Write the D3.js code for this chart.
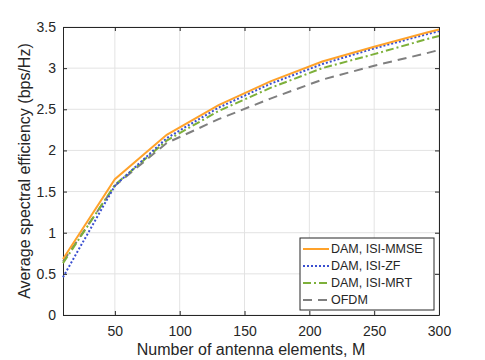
<!DOCTYPE html>
<html>
<head>
<meta charset="utf-8">
<script src="https://cdn.jsdelivr.net/npm/d3@7"></script>
<style>
  body { margin: 0; background: #fff; }
  text { font-family: "Liberation Sans", Arial, sans-serif; }
</style>
</head>
<body>
<div id="chart"></div>
<script>
const antennas = [10, 50, 90, 130, 170, 210, 250, 290, 300];
const mmse = [0.68, 1.65, 2.19, 2.55, 2.84, 3.08, 3.26, 3.43, 3.47];
const zf   = [0.46, 1.57, 2.15, 2.52, 2.81, 3.05, 3.24, 3.41, 3.45];
const mrt  = [0.63, 1.58, 2.12, 2.48, 2.76, 3.00, 3.17, 3.35, 3.39];
const ofdm = [0.65, 1.57, 2.09, 2.38, 2.63, 2.86, 3.03, 3.18, 3.22];
const seriesNames = ["DAM, ISI-MMSE", "DAM, ISI-ZF", "DAM, ISI-MRT", "OFDM"];
const xTicks = [50, 100, 150, 200, 250, 300];
const yTicks = [0, 0.5, 1, 1.5, 2, 2.5, 3, 3.5];

const W = 485, H = 360;
const margin = {top: 27, right: 46, bottom: 45, left: 63};
const width = W - margin.left - margin.right,
      height = H - margin.top - margin.bottom;

const svg = d3.select("#chart").append("svg")
  .attr("width", W).attr("height", H);
const g = svg.append("g")
  .attr("transform", `translate(${margin.left},${margin.top})`);

const x = d3.scaleLinear().domain([10, 300]).range([0, width]);
const y = d3.scaleLinear().domain([0, 3.5]).range([height, 0]);

// grid
g.append("g").selectAll("line").data(xTicks).join("line")
  .attr("x1", d => x(d)).attr("x2", d => x(d))
  .attr("y1", 0).attr("y2", height)
  .attr("stroke", "#e3e3e3").attr("stroke-width", 1);
g.append("g").selectAll("line").data(yTicks).join("line")
  .attr("y1", d => y(d)).attr("y2", d => y(d))
  .attr("x1", 0).attr("x2", width)
  .attr("stroke", "#e3e3e3").attr("stroke-width", 1);

// axes (ticks inside, MATLAB box style)
const axisColor = "#262626";
g.append("g").attr("class", "axis")
  .attr("transform", `translate(0,${height})`)
  .call(d3.axisBottom(x).tickValues(xTicks).tickSizeInner(-4).tickSizeOuter(0).tickPadding(11));
g.append("g").attr("class", "axis")
  .call(d3.axisLeft(y).tickValues(yTicks).tickFormat(d3.format("")).tickSizeInner(-4).tickSizeOuter(0).tickPadding(7));
g.append("g").attr("class", "axis")
  .call(d3.axisTop(x).tickValues(xTicks).tickSizeInner(-4).tickSizeOuter(0).tickFormat(""));
g.append("g").attr("class", "axis")
  .attr("transform", `translate(${width},0)`)
  .call(d3.axisRight(y).tickValues(yTicks).tickSizeInner(-4).tickSizeOuter(0).tickFormat(""));

g.selectAll(".axis path, .axis line").attr("stroke", axisColor).attr("stroke-width", 1);
g.selectAll(".axis text").attr("fill", axisColor).style("font-size", "14px");

// lines
const styles = [
  {color: "#ffa22a", dash: null},
  {color: "#3a4fd0", dash: "2,2"},
  {color: "#7db03a", dash: "8,3,2,3"},
  {color: "#7f7f7f", dash: "9,6"}
];
const allSeries = [mmse, zf, mrt, ofdm];
const line = d3.line()
  .x(d => x(d[0]))
  .y(d => y(d[1]));

[3, 2, 1, 0].forEach(i => {
  g.append("path")
    .datum(antennas.map((m, j) => [m, allSeries[i][j]]))
    .attr("fill", "none")
    .attr("stroke", styles[i].color)
    .attr("stroke-width", 2)
    .attr("stroke-dasharray", styles[i].dash)
    .attr("d", line);
});

// legend
const lg = g.append("g").attr("transform", `translate(${300 - margin.left},${238 - margin.top})`);
lg.append("rect")
  .attr("width", 134).attr("height", 72)
  .attr("fill", "#fff").attr("stroke", axisColor).attr("stroke-width", 1);
seriesNames.forEach((name, i) => {
  const yy = 11 + i * 17;
  lg.append("line")
    .attr("x1", 3).attr("x2", 29).attr("y1", yy).attr("y2", yy)
    .attr("stroke", styles[i].color).attr("stroke-width", 2)
    .attr("stroke-dasharray", styles[i].dash);
  lg.append("text")
    .attr("x", 31).attr("y", yy).attr("dy", "0.35em")
    .attr("fill", axisColor).style("font-size", "12.5px")
    .text(name);
});

// axis titles
svg.append("text")
  .attr("x", margin.left + width / 2).attr("y", 355)
  .attr("text-anchor", "middle").attr("fill", axisColor)
  .style("font-size", "16px")
  .text("Number of antenna elements, M");
svg.append("text")
  .attr("transform", `translate(30,${margin.top + height / 2}) rotate(-90)`)
  .attr("text-anchor", "middle").attr("fill", axisColor)
  .style("font-size", "16px")
  .text("Average spectral efficiency (bps/Hz)");
</script>
</body>
</html>
